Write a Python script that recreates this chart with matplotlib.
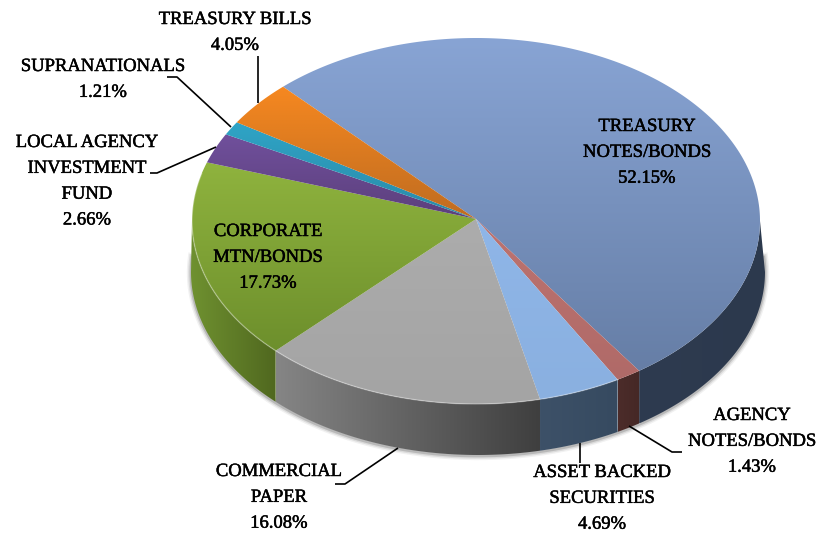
import matplotlib
matplotlib.use("Agg")
import matplotlib.pyplot as plt
import matplotlib.patheffects as pe
import numpy as np
from matplotlib.colors import to_rgb
from matplotlib.patches import Polygon

plt.rcParams["font.family"] = ["Liberation Serif", "DejaVu Serif"]

# Portfolio shares, clockwise from the first slice
categories = ["TREASURY\nNOTES/BONDS", "AGENCY\nNOTES/BONDS", "ASSET BACKED\nSECURITIES",
              "COMMERCIAL\nPAPER", "CORPORATE\nMTN/BONDS", "LOCAL AGENCY\nINVESTMENT\nFUND",
              "SUPRANATIONALS", "TREASURY BILLS"]
shares = [52.15, 1.43, 4.69, 16.08, 17.73, 2.66, 1.21, 4.05]

# (top of slice, bottom of slice) colours on the upper face
face_colors = [("#88a4d4", "#667ea6"), ("#bd7370", "#b06a68"), ("#8fb6e8", "#8ab0e0"),
               ("#acacac", "#a4a4a4"), ("#8fb33e", "#6d8f2c"), ("#70509c", "#5c3f7c"),
               ("#2fa4c6", "#2a8aa8"), ("#f68820", "#bf6c20")]
# (left of slice, right of slice) colours on the rim
wall_colors = [("#2e3b50", "#2c394d"), ("#4c2c2a", "#452826"), ("#3d5168", "#364a60"),
               ("#858585", "#3f3f3f"), ("#6f9130", "#50681f"), ("#5c3f7c", "#5c3f7c"),
               ("#2a8aa8", "#2a8aa8"), ("#bf6c20", "#bf6c20")]

# Layout of the tilted disc, in pixels
cx, cy = 476, 221
apex = (476, 219)
rx, ry = 284, 183
# The lower ellipse sits a little wider and further right, as in a perspective view
base_cx, base_cy = 478, 272
base_rx, base_ry = 287, 183
start = -42.8

# label centre x, first-line y
label_pos = [(647, 125), (752, 414), (602, 471), (279, 470),
             (268, 230), (87, 141), (103, 65), (235, 18)]
leaders = [None,
           [(629, 426), (672, 452), (682, 452)],
           [(580, 443), (580, 463)],
           [(398, 448), (345, 484), (335, 484)],
           None,
           [(216, 147), (157, 173), (150, 173)],
           [(231, 127), (177, 77), (167, 77)],
           [(258, 103), (258, 56)]]


def ellipse_arc(a0, a1, x0=cx, y0=cy, a=rx, b=ry):
    # Points along an ellipse; angles run clockwise from straight up
    t = np.radians(np.linspace(a0, a1, max(int(abs(a1 - a0) * 2), 2)))
    return np.column_stack([x0 + a * np.sin(t), y0 - b * np.cos(t)])


def base_arc(a0, a1):
    return ellipse_arc(a0, a1, base_cx, base_cy, base_rx, base_ry)


def base_angle(angle):
    # Angle on the lower ellipse straight below a point of the upper one
    if angle <= 90 or angle >= 270:
        return angle
    x = cx + rx * np.sin(np.radians(angle))
    return 180 - np.degrees(np.arcsin((x - base_cx) / base_rx))


def gradient_fill(ax, points, c0, c1, horizontal=False):
    # Paint a two-colour ramp over the bounding box and clip it to the outline
    x0, y0 = points.min(axis=0)
    x1, y1 = points.max(axis=0)
    ramp = np.linspace(to_rgb(c0), to_rgb(c1), 128)
    img = ramp[np.newaxis, :, :] if horizontal else ramp[:, np.newaxis, :]
    im = ax.imshow(img, extent=(x0, x1, y1, y0), aspect="auto", interpolation="bilinear", zorder=3)
    patch = Polygon(points, closed=True, transform=ax.transData, fc="none", ec="none")
    ax.add_patch(patch)
    im.set_clip_path(patch)


fig = plt.figure(figsize=(8.33, 5.35), dpi=100)
ax = fig.add_axes([0, 0, 1, 1])

edges = start + np.cumsum([0] + shares) * 3.6

# Soft shadow hugging the lower rim
outer = base_arc(85, 275)
for width, alpha in [(6, 0.07), (4, 0.12), (2, 0.22)]:
    ax.plot(outer[:, 0], outer[:, 1] + 1, color="#404040", lw=width, alpha=alpha, zorder=1)

# Rim: only the part facing the viewer
for i in range(len(shares)):
    a0, a1 = max(edges[i], 90), min(edges[i + 1], 270)
    if a1 > a0:
        pts = np.vstack([ellipse_arc(a0, a1), base_arc(base_angle(a0), base_angle(a1))[::-1]])
        gradient_fill(ax, pts, *wall_colors[i], horizontal=True)

# Upper face
for i in range(len(shares)):
    pts = np.vstack([[apex], ellipse_arc(edges[i], edges[i + 1])])
    gradient_fill(ax, pts, *face_colors[i])

# Bevel highlight along the front edge
front = ellipse_arc(150, 285)
ax.plot(front[:, 0], front[:, 1], color="white", lw=1.0, alpha=0.3, zorder=4)

for path in leaders:
    if path is not None:
        xs, ys = zip(*path)
        ax.plot(xs, ys, color="black", lw=1.2, zorder=5, solid_capstyle="butt")

for name, share, (lx, ly) in zip(categories, shares, label_pos):
    ax.text(lx, ly - 7, f"{name}\n{share:.2f}%", ha="center", va="top", fontsize=13.4,
            color="black", linespacing=1.68, zorder=6,
            path_effects=[pe.withStroke(linewidth=0.35, foreground="black")])

ax.set_xlim(0, 833)
ax.set_ylim(535, 0)
ax.axis("off")

fig.savefig("out.png", dpi=100)
